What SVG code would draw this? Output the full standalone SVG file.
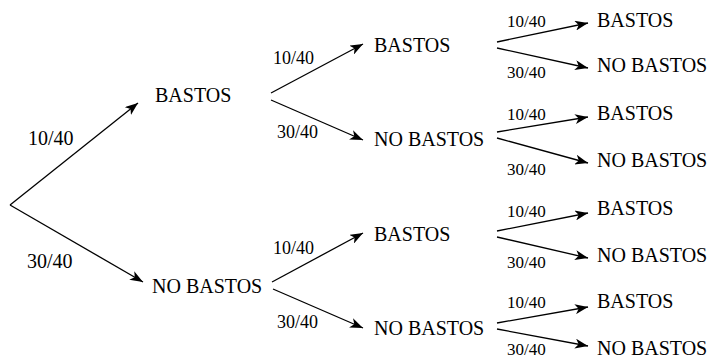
<svg xmlns="http://www.w3.org/2000/svg" width="714" height="358" viewBox="0 0 714 358">
<style>
text{fill:#000}
.n{font-size:20px}
.l1{font-size:20px}
.l2{font-size:18px}
.l3{font-size:17px}
.c line{stroke:#000;stroke-width:1.3;fill:none;marker-end:url(#ah)}
</style>
<defs>
<marker id="ah" markerUnits="userSpaceOnUse" markerWidth="14" markerHeight="10" refX="13" refY="5" orient="auto">
<path d="M0,0 L13,5 L0,10 L3.5,5 Z" fill="#000"/>
</marker>
</defs>
<rect width="714" height="358" fill="#fff"/>
<g class="c" id="connectors">
<line x1="10" y1="205" x2="138" y2="103"/>
<line x1="10" y1="205" x2="143" y2="282"/>
<line x1="271" y1="93" x2="363" y2="44"/>
<line x1="271" y1="100" x2="363" y2="140"/>
<line x1="272" y1="282" x2="363" y2="233"/>
<line x1="273" y1="289" x2="363" y2="328"/>
<line x1="497" y1="42" x2="588" y2="23"/>
<line x1="497" y1="48" x2="588" y2="68"/>
<line x1="497" y1="132" x2="588" y2="117"/>
<line x1="497" y1="138" x2="588" y2="163"/>
<line x1="497" y1="231" x2="588" y2="213"/>
<line x1="497" y1="237" x2="588" y2="258"/>
<line x1="497" y1="323" x2="588" y2="307"/>
<line x1="497" y1="329" x2="588" y2="346"/>
</g>
<g id="labels" font-family="'Liberation Serif', 'DejaVu Serif', serif">
<text class="l1" x="28" y="145">10/40</text>
<text class="l1" x="27" y="268">30/40</text>
<text class="l2" x="273" y="64">10/40</text>
<text class="l2" x="277" y="138">30/40</text>
<text class="l2" x="273" y="254">10/40</text>
<text class="l2" x="277" y="328">30/40</text>
<text class="l3" x="507" y="27">10/40</text>
<text class="l3" x="507" y="78">30/40</text>
<text class="l3" x="507" y="120">10/40</text>
<text class="l3" x="507" y="175">30/40</text>
<text class="l3" x="507" y="217">10/40</text>
<text class="l3" x="507" y="268">30/40</text>
<text class="l3" x="507" y="308">10/40</text>
<text class="l3" x="507" y="355">30/40</text>
</g>
<g font-family="'Liberation Serif', 'DejaVu Serif', serif">
<g id="n1"><text class="n" x="155" y="102">BASTOS</text></g>
<g id="n2"><text class="n" x="152" y="293">NO BASTOS</text></g>
<g id="n3"><text class="n" x="374" y="52">BASTOS</text></g>
<g id="n4"><text class="n" x="374" y="146">NO BASTOS</text></g>
<g id="n5"><text class="n" x="374" y="241">BASTOS</text></g>
<g id="n6"><text class="n" x="374" y="335">NO BASTOS</text></g>
<g id="n7"><text class="n" x="597" y="27">BASTOS</text></g>
<g id="n8"><text class="n" x="597" y="72">NO BASTOS</text></g>
<g id="n9"><text class="n" x="597" y="120">BASTOS</text></g>
<g id="n10"><text class="n" x="597" y="167">NO BASTOS</text></g>
<g id="n11"><text class="n" x="597" y="215">BASTOS</text></g>
<g id="n12"><text class="n" x="597" y="262">NO BASTOS</text></g>
<g id="n13"><text class="n" x="597" y="308">BASTOS</text></g>
<g id="n14"><text class="n" x="597" y="355">NO BASTOS</text></g>
</g>
</svg>
